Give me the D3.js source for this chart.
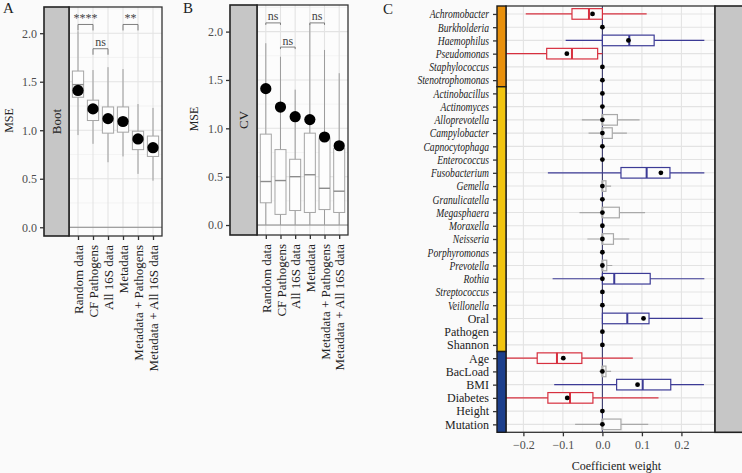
<!DOCTYPE html>
<html><head><meta charset="utf-8">
<script src="https://cdn.jsdelivr.net/npm/d3@7"></script>
<style>
body{margin:0;background:#fafafa;}
svg{display:block;font-family:"Liberation Serif","Times New Roman",serif;}
</style>
</head><body>
<svg id="chart" width="742" height="473"></svg>
<script>
// ---------- Data: panels A and B ----------
const categories = ["Random data","CF Pathogens","All 16S data","Metadata","Metadata + Pathogens","Metadata + All 16S data"];
const meanMSE  = [1.41,1.22,1.12,1.09,0.91,0.82];
const bootLow  = [0.95,0.86,0.67,0.73,0.55,0.48];
const bootQ1   = [1.34,1.10,0.97,0.98,0.80,0.73];
const bootMed  = [1.47,1.20,1.11,1.10,0.90,0.83];
const bootQ3   = [1.61,1.31,1.24,1.24,0.99,0.94];
const bootHigh = [2.02,1.62,1.65,1.63,1.27,1.23];
const cvLow  = [0,0,0,0,0,0];
const cvQ1   = [0.23,0.11,0.15,0.13,0.16,0.13];
const cvMed  = [0.45,0.46,0.50,0.52,0.38,0.35];
const cvQ3   = [0.94,0.78,0.68,0.95,0.90,0.79];
const cvHigh = [1.88,1.74,1.40,2.08,1.81,1.57];
const sigFrom = [1,2,4];
const sigTo   = [2,3,5];
const sigY    = [2.09,1.84,2.09];
const sigLabelsA = ["****","ns","**"];
const sigLabelsB = ["ns","ns","ns"];
const mseTicks = [0,0.5,1,1.5,2];

// ---------- Data: panel C ----------
const features = ["Achromobacter","Burkholderia","Haemophilus","Pseudomonas","Staphylococcus","Stenotrophomonas",
  "Actinobacillus","Actinomyces","Alloprevotella","Campylobacter","Capnocytophaga","Enterococcus","Fusobacterium",
  "Gemella","Granulicatella","Megasphaera","Moraxella","Neisseria","Porphyromonas","Prevotella","Rothia",
  "Streptococcus","Veillonella","Oral","Pathogen","Shannon","Age","BacLoad","BMI","Diabetes","Height","Mutation"];
const italicCount = 23; // genus names are italic
const groupNames = ["Pathogens","Oral","Clinical"];
const groupSizes = [6,20,6];
// direction: neg / pos / ns / zero
const direction = ["neg","zero","pos","neg","zero","zero","zero","zero","ns","ns","zero","zero","pos",
  "ns","zero","ns","zero","ns","zero","ns","pos","zero","zero","pos","zero","zero","neg","ns","pos","neg","zero","ns"];
const cLow  = [-0.194,0,-0.093,-0.27,0,0,0,0,-0.052,-0.035,0,0,-0.138,-0.006,0,-0.058,0,-0.038,0,-0.006,-0.126,0,0,0,0,0,-0.27,-0.008,-0.122,-0.27,0,-0.069];
const cQ1   = [-0.077,0,0,-0.141,0,0,0,0,0,0,0,0,0.047,0,0,0,0,0,0,0,0,0,0,0,0,0,-0.165,0,0.036,-0.138,0,0];
const cMed  = [-0.034,0,0.068,-0.077,0,0,0,0,0,0,0,0,0.112,0,0,0,0,0,0,0,0.030,0,0,0.063,0,0,-0.115,0,0.102,-0.082,0,0];
const cQ3   = [0,0,0.131,-0.012,0,0,0,0,0.038,0.025,0,0,0.171,0.009,0,0.043,0,0.028,0,0.011,0.121,0,0,0.118,0,0,-0.052,0.009,0.173,-0.024,0,0.047];
const cHigh = [0.112,0,0.258,0,0,0,0,0,0.094,0.062,0,0,0.258,0.022,0,0.108,0,0.068,0,0.025,0.258,0,0,0.254,0,0,0.077,0.022,0.257,0.142,0,0.116];
const cMean = [-0.025,0,0.066,-0.090,0,0,0,0,0,0,0,0,0.148,0,0,0,0,0,0,0,0,0,0,0.104,0,0,-0.099,0,0.089,-0.089,0,0];
const coefTicks = [-0.2,-0.1,0,0.1,0.2];
const coefMinor = [-0.15,-0.05,0.05,0.15,0.25];

// ---------- Drawing ----------
const svg = d3.select("#chart");
const FONT = 12;
const gridMajor = "#e3e3e3", gridMinor = "#efefef", panelBg = "#fcfcfc";

function styleAxis(ax, color, size){
  ax.attr("font-family",null).attr("font-size",null);
  ax.select(".domain").remove();
  ax.selectAll("line").attr("stroke","#333").attr("stroke-width",1.3);
  ax.selectAll("text").attr("font-size",size||FONT).attr("fill",color);
}

function msePanel(o){
  const g = svg.append("g");
  const x = d3.scalePoint().domain(categories).range([o.px0,o.px1]).padding(0.6);
  const y = d3.scaleLinear().domain(o.yDomain).range([o.py1,o.py0]);
  const step = x.step(), bw = step*0.75;
  g.append("rect").attr("x",o.px0).attr("y",o.py0).attr("width",o.px1-o.px0).attr("height",o.py1-o.py0).attr("fill",panelBg);
  const minor = d3.range(-0.25,2.5,0.5).filter(v=>v>o.yDomain[0]&&v<o.yDomain[1]);
  g.selectAll(".hmin").data(minor).join("line").attr("x1",o.px0).attr("x2",o.px1)
    .attr("y1",d=>y(d)).attr("y2",d=>y(d)).attr("stroke",gridMinor).attr("stroke-width",0.7);
  g.selectAll(".hmaj").data(mseTicks).join("line").attr("x1",o.px0).attr("x2",o.px1)
    .attr("y1",d=>y(d)).attr("y2",d=>y(d)).attr("stroke",gridMajor).attr("stroke-width",1.1);
  g.selectAll(".vmaj").data(categories).join("line").attr("y1",o.py0).attr("y2",o.py1)
    .attr("x1",d=>x(d)).attr("x2",d=>x(d)).attr("stroke",gridMajor).attr("stroke-width",1.1);
  g.append("line").attr("x1",o.px0).attr("x2",o.px1).attr("y1",y(0)).attr("y2",y(0)).attr("stroke","#8a8a8a").attr("stroke-width",1);
  g.selectAll(".wh").data(categories).join("line").attr("x1",d=>x(d)).attr("x2",d=>x(d))
    .attr("y1",(d,i)=>y(o.low[i])).attr("y2",(d,i)=>y(o.high[i])).attr("stroke","#9c9c9c").attr("stroke-width",1);
  g.selectAll(".bx").data(categories).join("rect").attr("x",d=>x(d)-bw/2).attr("width",bw)
    .attr("y",(d,i)=>y(o.q3[i])).attr("height",(d,i)=>y(o.q1[i])-y(o.q3[i]))
    .attr("fill","#fdfdfd").attr("stroke","#a5a5a5").attr("stroke-width",1);
  g.selectAll(".md").data(categories).join("line").attr("x1",d=>x(d)-bw/2).attr("x2",d=>x(d)+bw/2)
    .attr("y1",(d,i)=>y(o.med[i])).attr("y2",(d,i)=>y(o.med[i])).attr("stroke","#8c8c8c").attr("stroke-width",1.4);
  sigFrom.forEach((f,k)=>{
    const xa = x(categories[f-1]), xb = x(categories[sigTo[k]-1]), yy = y(sigY[k]);
    g.append("path").attr("d",`M${xa},${yy+o.tip}V${yy}H${xb}V${yy+o.tip}`)
      .attr("fill","none").attr("stroke","#707070").attr("stroke-width",0.9);
    const isStar = o.sig[k].indexOf("*")>=0;
    g.append("text").attr("x",(xa+xb)/2).attr("y",yy-(isStar?2:2.5)).attr("text-anchor","middle")
      .attr("font-size",12).attr("fill","#444").text(o.sig[k]);
  });
  g.selectAll(".pt").data(categories).join("circle").attr("cx",d=>x(d)).attr("cy",(d,i)=>y(meanMSE[i]))
    .attr("r",5.6).attr("fill","#000");
  g.append("rect").attr("x",o.px0).attr("y",o.py0).attr("width",o.px1-o.px0).attr("height",o.py1-o.py0)
    .attr("fill","none").attr("stroke","#333").attr("stroke-width",1.3);
  g.append("rect").attr("x",o.sx).attr("y",o.py0).attr("width",o.px0-o.sx).attr("height",o.py1-o.py0)
    .attr("fill","#c6c6c6").attr("stroke","#222").attr("stroke-width",1.6);
  g.append("text").attr("transform",`translate(${(o.sx+o.px0)/2},${(o.py0+o.py1)/2}) rotate(-90)`)
    .attr("text-anchor","middle").attr("dy","0.35em").attr("font-size",13).attr("fill","#222").text(o.strip);
  const ya = g.append("g").attr("transform",`translate(${o.sx},0)`)
    .call(d3.axisLeft(y).tickValues(mseTicks).tickFormat(d3.format(".1f")).tickSize(4).tickPadding(3));
  styleAxis(ya,"#4d4d4d");
  const xa = g.append("g").attr("transform",`translate(0,${o.py1})`)
    .call(d3.axisBottom(x).tickSize(4).tickPadding(5));
  styleAxis(xa,"#222",13);
  xa.selectAll("text").attr("transform","rotate(-90)").attr("text-anchor","end").attr("x",-9).attr("y",0).attr("dy","0.35em");
  g.append("text").attr("transform",`translate(${o.mx},${(o.py0+o.py1)/2-1}) rotate(-90)`)
    .attr("text-anchor","middle").attr("font-size",FONT).attr("fill","#222").text("MSE");
  g.append("text").attr("x",o.lx).attr("y",13).attr("font-size",15).attr("fill","#222").text(o.letter);
}

msePanel({px0:69,px1:162,py0:7,py1:236,sx:44,yDomain:[-0.09,2.27],strip:"Boot",letter:"A",lx:3,mx:12.5,
  low:bootLow,q1:bootQ1,med:bootMed,q3:bootQ3,high:bootHigh,sig:sigLabelsA,tip:6});
msePanel({px0:257,px1:348,py0:5,py1:235,sx:230,yDomain:[-0.103,2.275],strip:"CV",letter:"B",lx:183,mx:197.5,
  low:cvLow,q1:cvQ1,med:cvMed,q3:cvQ3,high:cvHigh,sig:sigLabelsB,tip:2});

// ---------- Panel C ----------
(function(){
  const px0=506, px1=715, py0=6, py1=432.3, sx=497;
  const g = svg.append("g");
  const x = d3.scaleLinear().domain([-0.244,0.285]).range([px0,px1]);
  const y = d3.scalePoint().domain(features).range([py0,py1]).padding(0.6);
  const bh = y.step()*0.8;
  const dirColor = {neg:"#d7303f",pos:"#3c3b96",ns:"#a9a9a9"};
  g.append("rect").attr("x",px0).attr("y",py0).attr("width",px1-px0).attr("height",py1-py0).attr("fill",panelBg);
  g.selectAll(".vmin").data(coefMinor).join("line").attr("x1",d=>x(d)).attr("x2",d=>x(d))
    .attr("y1",py0).attr("y2",py1).attr("stroke",gridMinor).attr("stroke-width",0.7);
  g.selectAll(".vmaj").data(coefTicks).join("line").attr("x1",d=>x(d)).attr("x2",d=>x(d))
    .attr("y1",py0).attr("y2",py1).attr("stroke",gridMajor).attr("stroke-width",1.1);
  g.selectAll(".hmaj").data(features).join("line").attr("x1",px0).attr("x2",px1)
    .attr("y1",d=>y(d)).attr("y2",d=>y(d)).attr("stroke",gridMajor).attr("stroke-width",1.1);
  g.append("clipPath").attr("id","clipC").append("rect").attr("x",px0).attr("y",py0).attr("width",px1-px0).attr("height",py1-py0);
  const m = g.append("g").attr("clip-path","url(#clipC)");
  m.append("line").attr("x1",x(0)).attr("x2",x(0)).attr("y1",py0).attr("y2",py1).attr("stroke","#3a3a6e").attr("stroke-width",1.1);
  const idx = features.map((f,i)=>i).filter(i=>direction[i]!=="zero");
  m.selectAll(".wh").data(idx).join("line").attr("x1",i=>x(cLow[i])).attr("x2",i=>x(cHigh[i]))
    .attr("y1",i=>y(features[i])).attr("y2",i=>y(features[i])).attr("stroke",i=>dirColor[direction[i]]).attr("stroke-width",1.2);
  m.selectAll(".bx").data(idx).join("rect").attr("x",i=>x(cQ1[i])).attr("width",i=>Math.max(x(cQ3[i])-x(cQ1[i]),0.5))
    .attr("y",i=>y(features[i])-bh/2).attr("height",bh).attr("fill","#fcfcfc")
    .attr("stroke",i=>dirColor[direction[i]]).attr("stroke-width",1.2);
  m.selectAll(".md").data(idx).join("line").attr("x1",i=>x(cMed[i])).attr("x2",i=>x(cMed[i]))
    .attr("y1",i=>y(features[i])-bh/2).attr("y2",i=>y(features[i])+bh/2).attr("stroke",i=>dirColor[direction[i]]).attr("stroke-width",2);
  m.selectAll(".pt").data(features).join("circle").attr("cx",(d,i)=>x(cMean[i])).attr("cy",d=>y(d))
    .attr("r",2.4).attr("fill","#000");
  g.append("rect").attr("x",px0).attr("y",py0).attr("width",px1-px0).attr("height",py1-py0)
    .attr("fill","none").attr("stroke","#333").attr("stroke-width",1.3);
  const stripColors = ["#e8900c","#f1c40f","#1c3f8c"];
  let start = 0;
  groupSizes.forEach((n,k)=>{
    const a = start===0 ? py0 : (y(features[start-1])+y(features[start]))/2;
    const b = start+n>=features.length ? py1 : (y(features[start+n-1])+y(features[start+n]))/2;
    g.append("rect").attr("x",sx).attr("y",a).attr("width",px0-sx).attr("height",b-a)
      .attr("fill",stripColors[k]).attr("stroke","#1a1a1a").attr("stroke-width",1.4).attr("data-group",groupNames[k]);
    start += n;
  });
  g.append("rect").attr("x",px1).attr("y",py0).attr("width",40).attr("height",py1-py0)
    .attr("fill","#c6c6c6").attr("stroke","#222").attr("stroke-width",1.6);
  const ya = g.append("g").attr("transform",`translate(${sx},0)`).call(d3.axisLeft(y).tickSize(4).tickPadding(4));
  styleAxis(ya,"#222");
  ya.selectAll("text").each(function(d){
      const i = features.indexOf(d);
      if(i<italicCount){
        d3.select(this).attr("font-style","italic").attr("transform","scale(0.8,1)").attr("x",-8/0.8);
      }
    });
  const xa = g.append("g").attr("transform",`translate(0,${py1})`)
    .call(d3.axisBottom(x).tickValues(coefTicks).tickFormat(d3.format(".1f")).tickSize(4).tickPadding(4));
  styleAxis(xa,"#4d4d4d");
  g.append("text").attr("x",616.5).attr("y",469.5).attr("text-anchor","middle").attr("font-size",FONT).attr("fill","#222").text("Coefficient weight");
  g.append("text").attr("x",383).attr("y",14).attr("font-size",15).attr("fill","#222").text("C");
})();
</script>
</body></html>
